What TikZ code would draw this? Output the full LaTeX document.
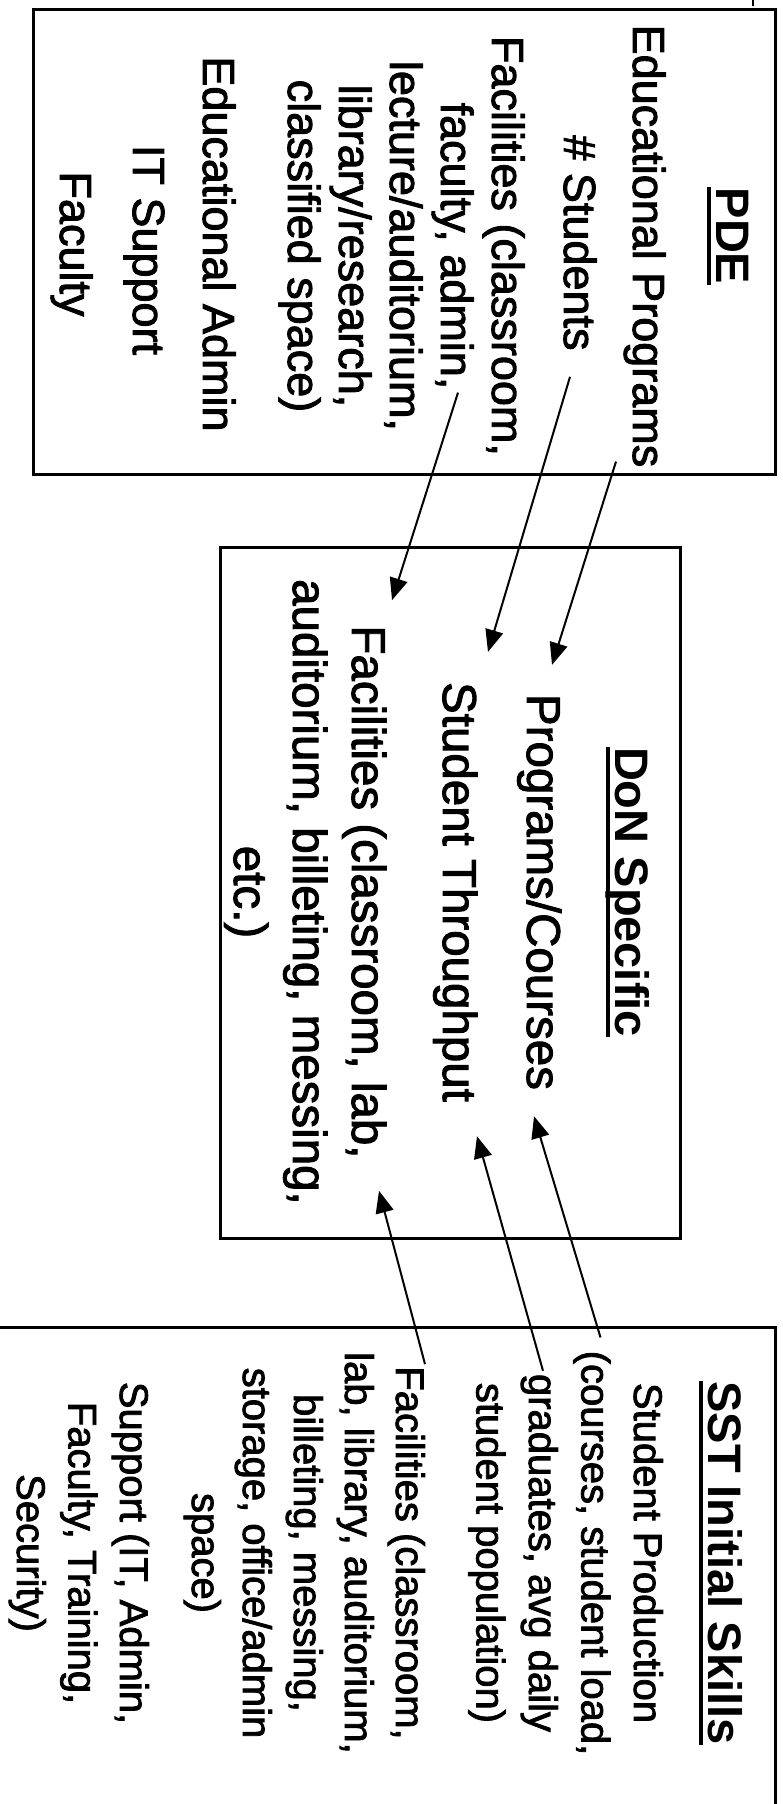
\documentclass[tikz,border=0pt]{standalone}
\usepackage{fontspec}
\setmainfont{Liberation Sans}[UprightFeatures={FakeBold=2}]
\usetikzlibrary{arrows.meta}

\begin{document}
\begin{tikzpicture}[x=1pt, y=1pt, rotate=-90, transform shape,
    box/.style={draw, line width=3pt, inner sep=0pt},
    pdeline/.style={font=\fontsize{45}{51}\selectfont, anchor=base, inner sep=0pt},
    donline/.style={font=\fontsize{47.5}{57}\selectfont, anchor=base, inner sep=0pt},
    sstline/.style={font=\fontsize{40}{51}\selectfont, anchor=base, inner sep=0pt},
    ttl/.style={font=\fontsize{47}{54}\selectfont\bfseries, anchor=base, inner sep=0pt},
    ul/.style={line width=3.5pt},
    link/.style={line width=2pt, -{Triangle[length=22pt, width=18pt]}}]
  \useasboundingbox (0,0) rectangle (1804,782);
  \clip (0,0) rectangle (1804,782);

  % boxes
  \node[box, minimum width=465pt, minimum height=742pt] (pdebox) at (241.5,404) {};
  \node[box, minimum width=691pt, minimum height=460pt] (donbox) at (892.5,450) {};
  \node[box, minimum width=523pt, minimum height=795pt] (sstbox) at (1588.5,377.5) {};
  \draw[line width=1.5pt] (0,753) -- (6,753);

  % PDE
  \node[ttl] (pdetitle) at (236,716) {PDE};
  \node[pdeline] (pdeprog) at (246,633) {Educational Programs};
  \node[pdeline] (pdestud) at (243,564) {\# Students};
  \foreach \t [count=\i, evaluate=\i as \yy using 492-51*(\i-1)] in {{Facilities (classroom,}, {faculty, admin,}, {lecture/auditorium,}, {library/research,}, {classified space)}}
    \node[pdeline] (pdefac\i) at (246,\yy) {\t};
  \node[pdeline] (pdeadm) at (244,203) {Educational Admin};
  \node[pdeline] (pdeit) at (250,133) {IT Support};
  \node[pdeline] (pdefacu) at (244,60) {Faculty};

  % DoN
  \node[ttl] (dontitle) at (892,615) {DoN Specific};
  \node[donline] (donprog) at (892,527) {Programs/Courses};
  \node[donline] (donthru) at (892,443) {Student Throughput};
  \foreach \t [count=\i, evaluate=\i as \yy using 352-59*(\i-1)] in {{Facilities (classroom, lab,}, {auditorium, billeting, messing,}, {etc.)}}
    \node[donline] (donfac\i) at (892,\yy) {\t};

  % SST
  \node[ttl] (ssttitle) at (1563,708) {SST Initial Skills};
  \foreach \t [count=\i, evaluate=\i as \yy using 634-52.5*(\i-1)] in {{Student Production}, {(courses, student load,}, {graduates, avg daily}, {student population)}}
    \node[sstline] (sstprod\i) at (1553,\yy) {\t};
  \foreach \t [count=\i, evaluate=\i as \yy using 396-51*(\i-1)] in {{Facilities (classroom,}, {lab, library, auditorium,}, {billeting, messing,}, {storage, office/admin}, {space)}}
    \node[sstline] (sstfac\i) at (1553,\yy) {\t};
  \foreach \t [count=\i, evaluate=\i as \yy using 120-51.5*(\i-1)] in {{Support (IT, Admin,}, {Faculty, Training,}, {Security)}}
    \node[sstline] (sstsup\i) at (1553,\yy) {\t};

  \foreach \n in {pdetitle, dontitle, ssttitle}
    \draw[ul] ([yshift=-7pt]\n.base west) -- ([yshift=-7pt]\n.base east);

  % links
  \draw[link] ([shift={(-6,-17)}]pdeprog.base east) -- ([shift={(-29,25)}]donprog.base west);
  \draw[link] ([shift={(26,6)}]pdestud.base east) -- ([shift={(-30,45)}]donthru.base west);
  \draw[link] ([shift={(3,17)}]pdefac2.base east) -- ([shift={(-25,40)}]donfac1.base west);
  \draw[link] ([shift={(-13,19)}]sstprod2.base west) -- ([shift={(26,7)}]donprog.base east);
  \draw[link] ([shift={(-3,14)}]sstprod3.base west) -- ([shift={(34,34)}]donthru.base east);
  \draw[link] ([shift={(-2,29)}]sstfac1.base west) -- ([shift={(32,27)}]donfac1.base east);
\end{tikzpicture}
\end{document}
